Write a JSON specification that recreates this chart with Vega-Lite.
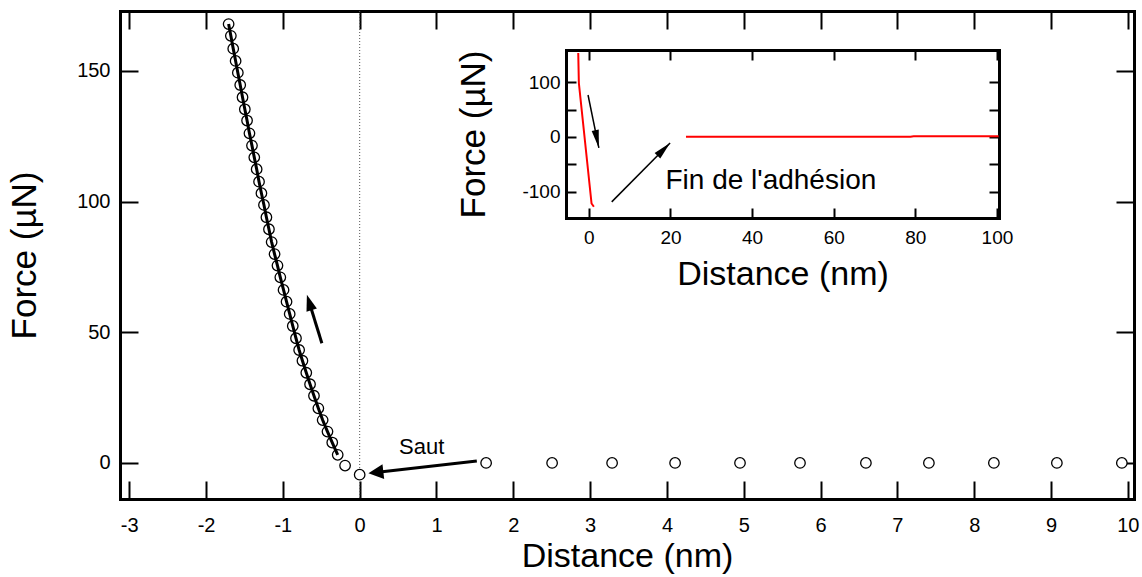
{
  "$schema": "https://vega.github.io/schema/vega-lite/v6.json",
  "width": 1014,
  "height": 488,
  "autosize": {"type": "none"},
  "padding": {"left": 120, "top": 11, "right": 8, "bottom": 78},
  "background": "white",
  "config": {
    "view": {"stroke": null},
    "font": "Liberation Sans",
    "axis": {
      "grid": false,
      "domainColor": "black",
      "domainWidth": 3,
      "domainCap": "square",
      "tickColor": "black",
      "tickWidth": 2,
      "labelColor": "black",
      "labelFont": "Liberation Sans",
      "titleFont": "Liberation Sans",
      "titleFontWeight": "normal",
      "titleColor": "black",
      "labelFlush": false,
      "labelOverlap": false,
      "labelBound": false
    }
  },
  "datasets": {
    "main": [
      {"d": -1.706, "f": 167.9, "s": "approach"},
      {"d": -1.677, "f": 163.4, "s": "approach"},
      {"d": -1.646, "f": 158.5, "s": "approach"},
      {"d": -1.615, "f": 153.8, "s": "approach"},
      {"d": -1.586, "f": 149.3, "s": "approach"},
      {"d": -1.555, "f": 144.6, "s": "approach"},
      {"d": -1.525, "f": 139.9, "s": "approach"},
      {"d": -1.495, "f": 135.3, "s": "approach"},
      {"d": -1.466, "f": 131.0, "s": "approach"},
      {"d": -1.435, "f": 126.1, "s": "approach"},
      {"d": -1.402, "f": 121.4, "s": "approach"},
      {"d": -1.372, "f": 116.9, "s": "approach"},
      {"d": -1.341, "f": 112.4, "s": "approach"},
      {"d": -1.310, "f": 107.6, "s": "approach"},
      {"d": -1.279, "f": 103.2, "s": "approach"},
      {"d": -1.246, "f": 98.7, "s": "approach"},
      {"d": -1.214, "f": 94.0, "s": "approach"},
      {"d": -1.181, "f": 89.4, "s": "approach"},
      {"d": -1.146, "f": 84.5, "s": "approach"},
      {"d": -1.108, "f": 79.9, "s": "approach"},
      {"d": -1.070, "f": 75.5, "s": "approach"},
      {"d": -1.033, "f": 71.0, "s": "approach"},
      {"d": -0.991, "f": 66.2, "s": "approach"},
      {"d": -0.952, "f": 61.7, "s": "approach"},
      {"d": -0.911, "f": 57.0, "s": "approach"},
      {"d": -0.871, "f": 52.4, "s": "approach"},
      {"d": -0.829, "f": 47.7, "s": "approach"},
      {"d": -0.788, "f": 43.2, "s": "approach"},
      {"d": -0.745, "f": 39.1, "s": "approach"},
      {"d": -0.695, "f": 34.5, "s": "approach"},
      {"d": -0.646, "f": 30.1, "s": "approach"},
      {"d": -0.595, "f": 25.7, "s": "approach"},
      {"d": -0.538, "f": 20.9, "s": "approach"},
      {"d": -0.482, "f": 16.4, "s": "approach"},
      {"d": -0.419, "f": 12.0, "s": "approach"},
      {"d": -0.357, "f": 7.8, "s": "approach"},
      {"d": -0.286, "f": 3.1, "s": "approach"},
      {"d": -0.19, "f": -1.0, "s": "contact"},
      {"d": 0.0, "f": -4.5, "s": "contact"},
      {"d": 1.646, "f": 0, "s": "far"},
      {"d": 2.505, "f": 0, "s": "far"},
      {"d": 3.286, "f": 0, "s": "far"},
      {"d": 4.106, "f": 0, "s": "far"},
      {"d": 4.951, "f": 0, "s": "far"},
      {"d": 5.732, "f": 0, "s": "far"},
      {"d": 6.590, "f": 0, "s": "far"},
      {"d": 7.410, "f": 0, "s": "far"},
      {"d": 8.256, "f": 0, "s": "far"},
      {"d": 9.076, "f": 0, "s": "far"},
      {"d": 9.922, "f": 0, "s": "far"}
    ],
    "mainArrows": [
      {"arrow": "saut", "d": 1.525, "f": 0.77, "part": "tail"},
      {"arrow": "saut", "d": 0.206, "f": -3.67, "part": "base"},
      {"arrow": "up", "d": -0.492, "f": 45.8, "part": "tail"},
      {"arrow": "up", "d": -0.656, "f": 61.4, "part": "base"}
    ],
    "mainHeads": [
      {"arrow": "saut", "d": 0.114, "f": -3.97},
      {"arrow": "up", "d": -0.687, "f": 64.3}
    ],
    "mainLabels": [
      {"text": "Saut", "d": 0.807, "f": 6.2}
    ],
    "inset": [
      {"seg": "a", "d": -2.6, "f": 154},
      {"seg": "a", "d": -2.45, "f": 99},
      {"seg": "a", "d": 0.66, "f": -122},
      {"seg": "a", "d": 1.23, "f": -128},
      {"seg": "b", "d": 23.8, "f": 0.5},
      {"seg": "b", "d": 78.8, "f": 0.5},
      {"seg": "b", "d": 79.6, "f": 1.2},
      {"seg": "b", "d": 100.4, "f": 1.2}
    ],
    "insetArrows": [
      {"arrow": "down", "d": -0.2, "f": 77},
      {"arrow": "down", "d": 2.45, "f": -20},
      {"arrow": "fin", "d": 5.6, "f": -119},
      {"arrow": "fin", "d": 19.9, "f": -11}
    ],
    "insetHeads": [
      {"arrow": "down", "d": 2.45, "f": -20},
      {"arrow": "fin", "d": 19.9, "f": -11}
    ],
    "insetLabels": [
      {"text": "Fin de l'adhésion", "d": 44.6, "f": -80}
    ],
    "zeroLine": [
      {"d": 0}
    ]
  },
  "resolve": {
    "scale": {"x": "independent", "y": "independent"},
    "axis": {"x": "independent", "y": "independent"}
  },
  "layer": [
    {
      "data": {"name": "zeroLine"},
      "mark": {"type": "rule", "color": "#555555", "strokeWidth": 1, "strokeDash": [1, 2]},
      "encoding": {
        "x": {"field": "d", "type": "quantitative", "scale": {"domain": [-3.12, 10.08], "nice": false, "zero": false}, "axis": null}
      }
    },
    {
      "data": {"name": "main"},
      "mark": {"type": "point", "shape": "circle", "filled": true, "fill": "white", "stroke": "black", "strokeWidth": 1.3, "size": 110, "opacity": 1},
      "encoding": {
        "x": {"field": "d", "type": "quantitative",
          "scale": {"domain": [-3.12, 10.08], "nice": false, "zero": false},
          "axis": {"orient": "bottom", "values": [-3, -2, -1, 0, 1, 2, 3, 4, 5, 6, 7, 8, 9, 10], "tickSize": -18, "labelPadding": 34, "labelFontSize": 20, "labelExpr": "'' + datum.value", "title": "Distance (nm)", "titleFontSize": 34, "titlePadding": 4}},
        "y": {"field": "f", "type": "quantitative",
          "scale": {"domain": [-13.8, 172.9], "nice": false, "zero": false},
          "axis": {"orient": "left", "values": [0, 50, 100, 150], "tickSize": -18, "labelPadding": 28, "labelFontSize": 20, "labelExpr": "'' + datum.value", "title": "Force (µN)", "titleFontSize": 35, "titlePadding": 34}}
      }
    },
    {
      "data": {"name": "main"},
      "transform": [{"filter": "datum.s === 'approach'"}],
      "mark": {"type": "line", "color": "black", "strokeWidth": 3},
      "encoding": {
        "x": {"field": "d", "type": "quantitative", "scale": {"domain": [-3.12, 10.08], "nice": false, "zero": false}, "axis": null},
        "y": {"field": "f", "type": "quantitative", "scale": {"domain": [-13.8, 172.9], "nice": false, "zero": false}, "axis": null}
      }
    },
    {
      "data": {"name": "main"},
      "mark": {"type": "point", "opacity": 0},
      "encoding": {
        "x": {"field": "d", "type": "quantitative",
          "scale": {"domain": [-3.12, 10.08], "nice": false, "zero": false},
          "axis": {"orient": "top", "values": [-3, -2, -1, 0, 1, 2, 3, 4, 5, 6, 7, 8, 9, 10], "tickSize": -18, "labels": false, "title": null}},
        "y": {"field": "f", "type": "quantitative",
          "scale": {"domain": [-13.8, 172.9], "nice": false, "zero": false},
          "axis": {"orient": "right", "values": [0, 50, 100, 150], "tickSize": -18, "labels": false, "title": null}}
      }
    },
    {
      "data": {"name": "mainArrows"},
      "mark": {"type": "line", "color": "black", "strokeWidth": 3},
      "encoding": {
        "x": {"field": "d", "type": "quantitative", "scale": {"domain": [-3.12, 10.08], "nice": false, "zero": false}, "axis": null},
        "y": {"field": "f", "type": "quantitative", "scale": {"domain": [-13.8, 172.9], "nice": false, "zero": false}, "axis": null},
        "detail": {"field": "arrow", "type": "nominal"}
      }
    },
    {
      "data": {"name": "mainHeads"},
      "transform": [{"filter": "datum.arrow === 'saut'"}],
      "mark": {"type": "point", "shape": "M0,0L-0.5,1L0.5,1Z", "size": 900, "angle": 263.5, "filled": true, "fill": "black", "strokeWidth": 0, "opacity": 1},
      "encoding": {
        "x": {"field": "d", "type": "quantitative", "scale": {"domain": [-3.12, 10.08], "nice": false, "zero": false}, "axis": null},
        "y": {"field": "f", "type": "quantitative", "scale": {"domain": [-13.8, 172.9], "nice": false, "zero": false}, "axis": null}
      }
    },
    {
      "data": {"name": "mainHeads"},
      "transform": [{"filter": "datum.arrow === 'up'"}],
      "mark": {"type": "point", "shape": "M0,0L-0.34,1L0.34,1Z", "size": 1024, "angle": 342.6, "filled": true, "fill": "black", "strokeWidth": 0, "opacity": 1},
      "encoding": {
        "x": {"field": "d", "type": "quantitative", "scale": {"domain": [-3.12, 10.08], "nice": false, "zero": false}, "axis": null},
        "y": {"field": "f", "type": "quantitative", "scale": {"domain": [-13.8, 172.9], "nice": false, "zero": false}, "axis": null}
      }
    },
    {
      "data": {"name": "mainLabels"},
      "mark": {"type": "text", "font": "Liberation Sans", "fontSize": 22, "color": "black", "align": "center", "baseline": "middle"},
      "encoding": {
        "x": {"field": "d", "type": "quantitative", "scale": {"domain": [-3.12, 10.08], "nice": false, "zero": false}, "axis": null},
        "y": {"field": "f", "type": "quantitative", "scale": {"domain": [-13.8, 172.9], "nice": false, "zero": false}, "axis": null},
        "text": {"field": "text", "type": "nominal"}
      }
    },
    {
      "data": {"name": "inset"},
      "mark": {"type": "line", "color": "#ff0000", "strokeWidth": 2},
      "encoding": {
        "x": {"field": "d", "type": "quantitative",
          "scale": {"domain": [-5.6, 100.5], "range": [446, 879], "nice": false, "zero": false},
          "axis": {"orient": "bottom", "offset": -281, "values": [0, 20, 40, 60, 80, 100], "tickSize": -10, "labelPadding": 20, "labelFontSize": 19, "labelExpr": "'' + datum.value", "title": "Distance (nm)", "titleFontSize": 34, "titlePadding": 10}},
        "y": {"field": "f", "type": "quantitative",
          "scale": {"domain": [-148.6, 159.6], "range": [207, 39], "nice": false, "zero": false},
          "axis": {"orient": "left", "offset": -446, "values": [-100, -50, 0, 50, 100], "tickSize": -10, "labelPadding": 16, "labelFontSize": 19, "labelExpr": "datum.value % 100 === 0 ? '' + datum.value : ''", "title": "Force (µN)", "titleFontSize": 35, "titlePadding": 30}},
        "detail": {"field": "seg", "type": "nominal"}
      }
    },
    {
      "data": {"name": "inset"},
      "mark": {"type": "point", "opacity": 0},
      "encoding": {
        "x": {"field": "d", "type": "quantitative",
          "scale": {"domain": [-5.6, 100.5], "range": [446, 879], "nice": false, "zero": false},
          "axis": {"orient": "top", "offset": -39, "values": [0, 20, 40, 60, 80, 100], "tickSize": -10, "labels": false, "title": null}},
        "y": {"field": "f", "type": "quantitative",
          "scale": {"domain": [-148.6, 159.6], "range": [207, 39], "nice": false, "zero": false},
          "axis": {"orient": "right", "offset": -135, "values": [-100, -50, 0, 50, 100], "tickSize": -10, "labels": false, "title": null}}
      }
    },
    {
      "data": {"name": "insetArrows"},
      "mark": {"type": "line", "color": "black", "strokeWidth": 1.5},
      "encoding": {
        "x": {"field": "d", "type": "quantitative", "scale": {"domain": [-5.6, 100.5], "range": [446, 879], "nice": false, "zero": false}, "axis": null},
        "y": {"field": "f", "type": "quantitative", "scale": {"domain": [-148.6, 159.6], "range": [207, 39], "nice": false, "zero": false}, "axis": null},
        "detail": {"field": "arrow", "type": "nominal"}
      }
    },
    {
      "data": {"name": "insetHeads"},
      "transform": [{"filter": "datum.arrow === 'down'"}],
      "mark": {"type": "point", "shape": "M0,0L-0.2,1L0.2,1Z", "size": 1296, "angle": 168.3, "filled": true, "fill": "black", "strokeWidth": 0, "opacity": 1},
      "encoding": {
        "x": {"field": "d", "type": "quantitative", "scale": {"domain": [-5.6, 100.5], "range": [446, 879], "nice": false, "zero": false}, "axis": null},
        "y": {"field": "f", "type": "quantitative", "scale": {"domain": [-148.6, 159.6], "range": [207, 39], "nice": false, "zero": false}, "axis": null}
      }
    },
    {
      "data": {"name": "insetHeads"},
      "transform": [{"filter": "datum.arrow === 'fin'"}],
      "mark": {"type": "point", "shape": "M0,0L-0.22,1L0.22,1Z", "size": 1296, "angle": 44.5, "filled": true, "fill": "black", "strokeWidth": 0, "opacity": 1},
      "encoding": {
        "x": {"field": "d", "type": "quantitative", "scale": {"domain": [-5.6, 100.5], "range": [446, 879], "nice": false, "zero": false}, "axis": null},
        "y": {"field": "f", "type": "quantitative", "scale": {"domain": [-148.6, 159.6], "range": [207, 39], "nice": false, "zero": false}, "axis": null}
      }
    },
    {
      "data": {"name": "insetLabels"},
      "mark": {"type": "text", "font": "Liberation Sans", "fontSize": 28, "color": "black", "align": "center", "baseline": "middle"},
      "encoding": {
        "x": {"field": "d", "type": "quantitative", "scale": {"domain": [-5.6, 100.5], "range": [446, 879], "nice": false, "zero": false}, "axis": null},
        "y": {"field": "f", "type": "quantitative", "scale": {"domain": [-148.6, 159.6], "range": [207, 39], "nice": false, "zero": false}, "axis": null},
        "text": {"field": "text", "type": "nominal"}
      }
    }
  ]
}
